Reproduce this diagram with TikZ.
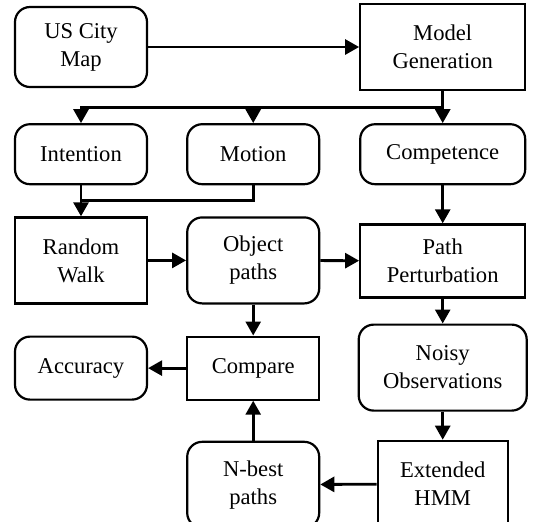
\documentclass[tikz,border=0pt]{standalone}
\usepackage{fontspec}
\setmainfont{Liberation Serif}
\usepackage{tikz}
\usetikzlibrary{arrows.meta,positioning}

\begin{document}
\begin{tikzpicture}[
    box/.style={rectangle, draw, line width=1.1pt, minimum width=66pt, minimum height=43pt, align=center, font=\fontsize{11.3}{14}\selectfont},
    rbox/.style={box, rounded corners=7.5pt},
    edge/.style={-{Triangle[length=7pt,width=7.5pt]}, line width=1.4pt},
    link/.style={line width=1.4pt}
]
    \useasboundingbox (-40.5pt,-237pt) rectangle (234pt,23.5pt);

    \node[rbox, minimum height=40pt] (map) at (0,0) {US City\\Map};
    \node[box, minimum width=82.5pt, right=105.5pt of map] (model) {Model\\Generation};

    \node[rbox, minimum height=30pt, below=17.5pt of map] (intention) {Intention};
    \node[rbox, minimum height=30pt, right=19pt of intention] (motion) {Motion};
    \node[rbox, minimum height=30pt, minimum width=82.5pt, below=16pt of model] (competence) {Competence};

    \node[box, below=15.5pt of intention] (walk) {Random\\Walk};
    \node[rbox, right=19pt of walk] (objpaths) {Object\\paths};
    \node[box, minimum width=82.5pt, minimum height=36.5pt, below=19pt of competence] (perturb) {Path\\Perturbation};

    \node[rbox, minimum height=31.5pt, below=15.5pt of walk] (accuracy) {Accuracy};
    \node[box, minimum height=31.5pt, below=15.5pt of objpaths] (compare) {Compare};
    \node[rbox, minimum width=84pt, below=12.5pt of perturb] (noisy) {Noisy\\Observations};

    \node[rbox, below=20pt of compare] (nbest) {N-best\\paths};
    \node[box, minimum width=65pt, below=14pt of noisy] (hmm) {Extended\\HMM};

    % fork under the model
    \coordinate[below=8pt of model] (fork);
    \coordinate[below=7.5pt of intention] (merge);

    \draw[edge] (map) -- (model);
    \draw[edge] (model) -- (competence);
    \draw[edge] (fork) -| (intention);
    \draw[edge] (fork -| motion) -- (motion);

    \draw[edge] (intention) -- (walk);
    \draw[link] (motion) |- (merge);

    \draw[edge] (walk) -- (objpaths);
    \draw[edge] (objpaths) -- (perturb);
    \draw[edge] (competence) -- (perturb);
    \draw[edge] (perturb) -- (noisy);
    \draw[edge] (objpaths) -- (compare);
    \draw[edge] (compare) -- (accuracy);
    \draw[edge] (noisy) -- (hmm);
    \draw[edge] (hmm) -- (nbest);
    \draw[edge] (nbest) -- (compare);
\end{tikzpicture}
\end{document}
